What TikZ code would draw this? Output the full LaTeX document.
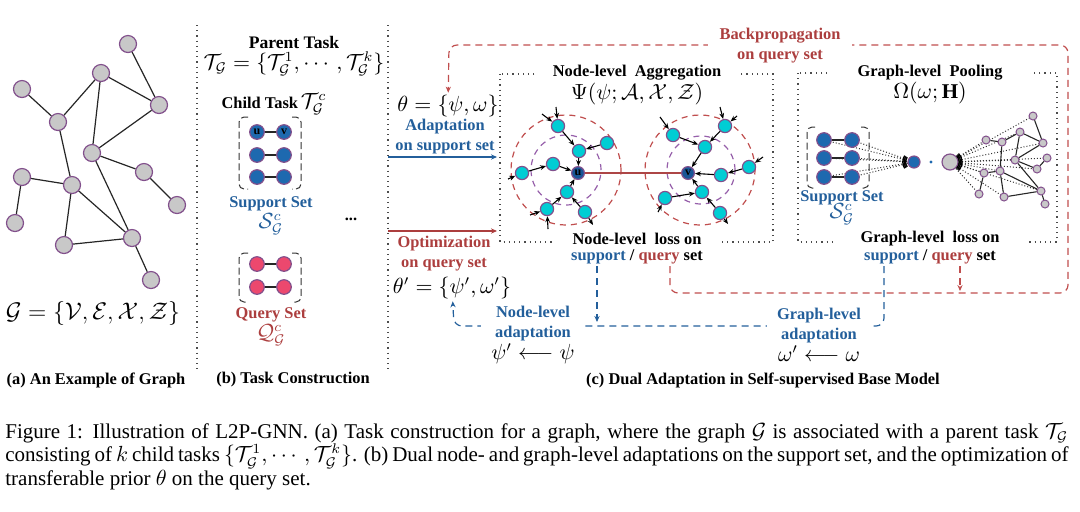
\documentclass[tikz,border=0pt]{standalone}
\usepackage{fontspec}
\setmainfont{Liberation Serif}
\usepackage{amsmath}
\usepackage{amssymb}
\usetikzlibrary{arrows.meta}

\definecolor{nodegray}{RGB}{200,200,200}
\definecolor{nodeedge}{RGB}{130,80,140}
\definecolor{supblue}{RGB}{30,105,175}
\definecolor{qpink}{RGB}{236,72,110}
\definecolor{aggcyan}{RGB}{0,205,212}
\definecolor{uvblue}{RGB}{25,85,150}
\definecolor{txtblue}{RGB}{35,95,155}
\definecolor{txtred}{RGB}{172,62,62}
\definecolor{ringred}{RGB}{192,78,78}
\definecolor{ringpurple}{RGB}{150,95,170}

\newcommand{\lblfont}{\fontsize{8.2}{10}\selectfont\bfseries}
\newcommand{\eqfont}{\fontsize{10.5}{12}\selectfont}
\newcommand{\capfont}{\fontsize{10.5}{11.75}\selectfont}

\pgfdeclarelayer{bg}
\pgfsetlayers{bg,main}

\tikzset{
  gnode/.style={circle,draw=nodeedge,fill=nodegray,line width=0.6pt,inner sep=0pt,minimum size=8.5pt},
  pnode/.style={gnode,minimum size=4pt,line width=0.5pt},
  snode/.style={gnode,fill=supblue,minimum size=7.3pt,font=\fontsize{6}{6}\selectfont\bfseries},
  qnode/.style={gnode,fill=qpink,minimum size=7.3pt},
  cnode/.style={gnode,fill=aggcyan,minimum size=6.6pt},
  uvnode/.style={gnode,fill=uvblue,minimum size=6.4pt,font=\fontsize{6}{6}\selectfont\bfseries},
  gedge/.style={line width=0.6pt,black!85},
  aggarrow/.style={line width=0.55pt,-{Stealth[length=3pt,width=2.4pt]}},
  bracket/.style={dash pattern=on 3.5pt off 1.8pt,rounded corners=2.5pt,line width=0.5pt,black!80},
  framebox/.style={dotted,line width=0.6pt,black!70},
  pooldot/.style={densely dotted,line width=0.5pt,black!80},
  ring/.style={dash pattern=on 3pt off 2.5pt,line width=0.6pt},
  bluepath/.style={txtblue,dash pattern=on 3.5pt off 2.5pt,line width=0.6pt,rounded corners=4pt},
  redpath/.style={ringred,dash pattern=on 3.5pt off 2.5pt,line width=0.6pt,rounded corners=4pt},
  tip/.style={-{Stealth[length=3pt,width=2.6pt]}},
  lbl/.style={font=\lblfont,align=center,inner sep=1pt},
  eq/.style={font=\eqfont,inner sep=1pt},
  cover/.style={fill=white,inner xsep=9pt,inner ysep=1pt}
}

\begin{document}
\begin{tikzpicture}[x=0.5pt,y=-0.5pt]
\useasboundingbox (0,0) rectangle (1080,511);

% panel separators
\draw[framebox] (197,25) -- (197,370);
\draw[framebox] (388,25) -- (388,370);

% (a) example graph
\foreach \n/\x/\y in {n1/128/44, n2/101/73, n3/22/89, n4/159/105, n5/58/122,
  n6/92/153, n7/144/172, n8/22/177, n9/72/185, n10/177/205, n11/15/223,
  n12/64/245, n13/132/238, n14/151/280}
  \node[gnode] (\n) at (\x,\y) {};
\foreach \a/\b in {n1/n4, n2/n4, n2/n5, n3/n5, n2/n6, n4/n6, n5/n9, n6/n7,
  n7/n10, n6/n13, n8/n9, n8/n11, n9/n12, n9/n13, n12/n13, n13/n14}
  \draw[gedge] (\a) -- (\b);
\node[font=\fontsize{11.5}{13}\selectfont] (geq) at (93,313)
  {$\mathcal{G}=\{\mathcal{V},\mathcal{E},\mathcal{X},\mathcal{Z}\}$};
\node[lbl] (capa) at (96,380) {(a) An Example of Graph};

% (b) task construction
\node[lbl,font=\fontsize{8.8}{10}\selectfont\bfseries] (parent) at (294,42) {Parent Task};
\node[eq] (parenteq) at (294,64)
  {$\mathcal{T}_{\mathcal{G}}=\{\mathcal{T}^1_{\mathcal{G}},\cdots,\mathcal{T}^k_{\mathcal{G}}\}$};
\node[lbl] (child) at (274,104) {Child Task\,{\eqfont\mdseries$\mathcal{T}^c_{\mathcal{G}}$}};

\draw[bracket] (248,117) -- (239,117) -- (239,189) -- (248,189);
\draw[bracket] (292,117) -- (301,117) -- (301,189) -- (292,189);
\node[snode] (su) at (257,132) {u};
\node[snode] (sv) at (284,132) {v};
\node[snode] (s21) at (257,155) {};
\node[snode] (s22) at (284,155) {};
\node[snode] (s31) at (257,177) {};
\node[snode] (s32) at (284,177) {};
\foreach \a/\b in {su/sv, s21/s22, s31/s32} \draw[gedge] (\a) -- (\b);
\node[lbl,text=txtblue] (suplbl) at (271,204) {Support Set};
\node[eq,text=txtblue] (supeq) at (271,224) {$\mathcal{S}^c_{\mathcal{G}}$};
\node[lbl] (dots) at (351,219) {...};

\draw[bracket] (248,253) -- (239,253) -- (239,302) -- (248,302);
\draw[bracket] (292,253) -- (301,253) -- (301,302) -- (292,302);
\node[qnode] (q11) at (257,264) {};
\node[qnode] (q12) at (284,264) {};
\node[qnode] (q21) at (257,287) {};
\node[qnode] (q22) at (284,287) {};
\foreach \a/\b in {q11/q12, q21/q22} \draw[gedge] (\a) -- (\b);
\node[lbl,text=txtred] (qrylbl) at (271,315) {Query Set};
\node[eq,text=txtred] (qryeq) at (271,335) {$\mathcal{Q}^c_{\mathcal{G}}$};
\node[lbl] (capb) at (293,380) {(b) Task Construction};

% (c) dual adaptation
\draw[framebox] (500,74) rectangle (773,242);
\draw[framebox] (798,73) rectangle (1057,242);

% backpropagation loop
\coordinate (nlqry) at (670,266);
\coordinate (glqry) at (960,266);
\coordinate (nlsup) at (597,266);
\coordinate (glsup) at (884,266);
\node[eq] (theta) at (448,106) {$\theta=\{\psi,\omega\}$};
\node[eq] (thetap) at (452,288) {$\theta'=\{\psi',\omega'\}$};
\draw[redpath,tip] (nlqry) -- (670,293) -- (1068,293) -- (1068,45) -- (449,45) -- (theta);
\draw[redpath,tip] (glqry) -- (960,291);
\node[lbl,text=txtred,fill=white,inner xsep=6pt] (backlbl) at (780,46) {Backpropagation\\on query set};

\draw[bluepath,tip] (glsup) -- (884,326) -- (454,326) -- (thetap);
\draw[bluepath,tip] (nlsup) -- (597,322);
\node[lbl,text=txtblue,fill=white,inner xsep=5pt] (nadapt) at (533,335)
  {Node-level\\adaptation\\[1pt]{\eqfont\mdseries\color{black}$\psi'\longleftarrow\psi$}};
\node[lbl,text=txtblue,fill=white,inner xsep=5pt] (gadapt) at (819,335)
  {Graph-level\\adaptation\\[1pt]{\eqfont\mdseries\color{black}$\omega'\longleftarrow\omega$}};

% inputs
\coordinate (adin) at (388,157);
\coordinate (adout) at (497,157);
\coordinate (opin) at (388,231);
\coordinate (opout) at (497,231);
\draw[txtblue,line width=0.6pt,tip] (adin) -- (adout);
\draw[txtred,line width=0.6pt,tip] (opin) -- (opout);
\node[lbl,text=txtblue] (adlbl) at (445,137) {Adaptation\\on support set};
\node[lbl,text=txtred] (oplbl) at (444,254) {Optimization\\on query set};

% node-level aggregation
\node[lbl,cover] (aggttl) at (637,73) {Node-level~~Aggregation};
\node[eq] (aggeq) at (637,94) {$\Psi(\psi;\mathcal{A},\mathcal{X},\mathcal{Z})$};
\draw[ring,ringred] (566,170) circle[radius=27.5pt];
\draw[ring,ringpurple] (566,170) circle[radius=17.5pt];
\draw[ring,ringred] (700,170) circle[radius=27.5pt];
\draw[ring,ringpurple] (701,170) circle[radius=17pt];

\node[uvnode] (u) at (578,173) {u};
\node[uvnode] (v) at (688,173) {v};
\draw[ringred!90!black,line width=0.8pt] (u) -- (v);

\foreach \n/\x/\y in {a1/558/126, a2/607/143, a3/579/151, a4/553/164, a5/522/173,
  a6/567/192, a7/547/209, a8/585/212,
  b1/673/135, b2/725/126, b3/705/147, b4/749/167, b5/721/175,
  b6/702/192, b7/665/198, b8/720/213}
  \node[cnode] (\n) at (\x,\y) {};
\foreach \a/\b in {a1/a3, a2/a3, a3/u, a4/u, a5/a4, a6/u, a7/a6, a8/a6,
  b1/b3, b2/b3, b3/v, b4/b5, b5/v, b6/v, b7/b6, b8/b6}
  \draw[aggarrow] (\a) -- (\b);
\foreach \c/\x/\y/\n in {ia1/542/114/a1, ib1/556/107/a1, ia5/508/179/a5,
  ia7/530/215/a7, ib7/548/229/a7, ic1/660/117/b1, ic2/720/107/b2,
  id2/737/116/b2, ic4/763/157/b4, ic7/658/212/b7}
  {\coordinate (\c) at (\x,\y);
   \draw[aggarrow] (\c) -- (\n);}
\coordinate (oa8) at (593,225);
\coordinate (ob8) at (728,224);
\draw[aggarrow] (a8) -- (oa8);
\draw[aggarrow] (b8) -- (ob8);

\node[lbl,fill=white,inner xsep=10pt] (nloss) at (637,239) {Node-level~~loss on};
\node[lbl] (nlset) at (637,257)
  {\textcolor{txtblue}{support} / \textcolor{txtred}{query} set};

% graph-level pooling
\node[lbl,cover,inner xsep=14pt] (poolttl) at (930,73) {Graph-level~~Pooling};
\node[eq] (pooleq) at (930,93) {$\Omega(\omega;\mathbf{H})$};

\draw[bracket] (815,127) -- (807,127) -- (807,188) -- (815,188);
\draw[bracket] (861,127) -- (869,127) -- (869,188) -- (861,188);
\node[snode] (p11) at (824,140) {};
\node[snode] (p12) at (852,140) {};
\node[snode] (p21) at (824,158) {};
\node[snode] (p22) at (852,158) {};
\node[snode] (p31) at (824,177) {};
\node[snode] (p32) at (852,177) {};
\foreach \a/\b in {p11/p12, p21/p22, p31/p32} \draw[gedge] (\a) -- (\b);
\node[snode,minimum size=6pt] (poolb) at (914,162) {};
\node[circle,fill=supblue,inner sep=0pt,minimum size=1.6pt] (dotb) at (931,162) {};
\node[gnode,minimum size=8pt] (poolg) at (950,162) {};

\foreach \n/\x/\y in {g1/1033/116, g2/1020/132, g3/986/140, g4/1002/142,
  g5/1043/143, g6/1015/160, g7/1047/158, g8/1037/169, g9/1000/171,
  g10/984/173, g11/1041/191, g12/979/194, g13/1004/197, g14/1045/204}
  \node[pnode] (\n) at (\x,\y) {};
\foreach \a/\b in {g1/g5, g2/g5, g2/g4, g3/g4, g2/g6, g4/g9, g5/g6, g6/g8,
  g7/g8, g6/g11, g9/g10, g9/g11, g10/g12, g9/g13, g13/g11, g11/g14}
  \draw[gedge,line width=0.55pt] (\a) -- (\b);

\begin{pgfonlayer}{bg}
\foreach \n in {p11,p12,p21,p22,p31,p32}
  \draw[pooldot] (\n.center) -- (poolb.center);
\foreach \n in {g1,g2,g3,g5,g6,g7,g8,g9,g10,g11,g12,g13}
  \draw[pooldot] (poolg.center) -- (\n.center);
\end{pgfonlayer}
\foreach \r in {4.2,4.9,5.6}
  \draw[line width=0.7pt] (poolb.center) ++(145:\r pt) arc[start angle=145,end angle=215,radius=\r pt];
\foreach \r in {4.6,5.3,6.0}
  \draw[line width=0.7pt] (poolg.center) ++(-45:\r pt) arc[start angle=-45,end angle=45,radius=\r pt];

\node[lbl,text=txtblue] (psuplbl) at (842,198) {Support Set};
\node[eq,text=txtblue] (psupeq) at (842,214) {$\mathcal{S}^c_{\mathcal{G}}$};

\node[lbl,fill=white,inner xsep=14pt] (gloss) at (930,239) {Graph-level~~loss on};
\node[lbl] (glset) at (930,257)
  {\textcolor{txtblue}{support} / \textcolor{txtred}{query} set};

\node[lbl] (capc) at (763,380) {(c) Dual Adaptation in Self-supervised Base Model};

% caption
\node[font=\capfont,align=left,inner sep=0pt,anchor=north west] (figcap) at (5,423)
  {\makebox[531.5pt][s]{Figure 1: Illustration of L2P-GNN. (a) Task construction for a graph, where the graph $\mathcal{G}$ is associated with a parent task $\mathcal{T}_{\mathcal{G}}$}\\
   \makebox[531.5pt][s]{consisting of $k$ child tasks $\{\mathcal{T}^1_{\mathcal{G}},\cdots,\mathcal{T}^k_{\mathcal{G}}\}$. (b) Dual node- and graph-level adaptations on the support set, and the optimization of}\\
   transferable prior $\theta$ on the query set.};
\end{tikzpicture}
\end{document}
